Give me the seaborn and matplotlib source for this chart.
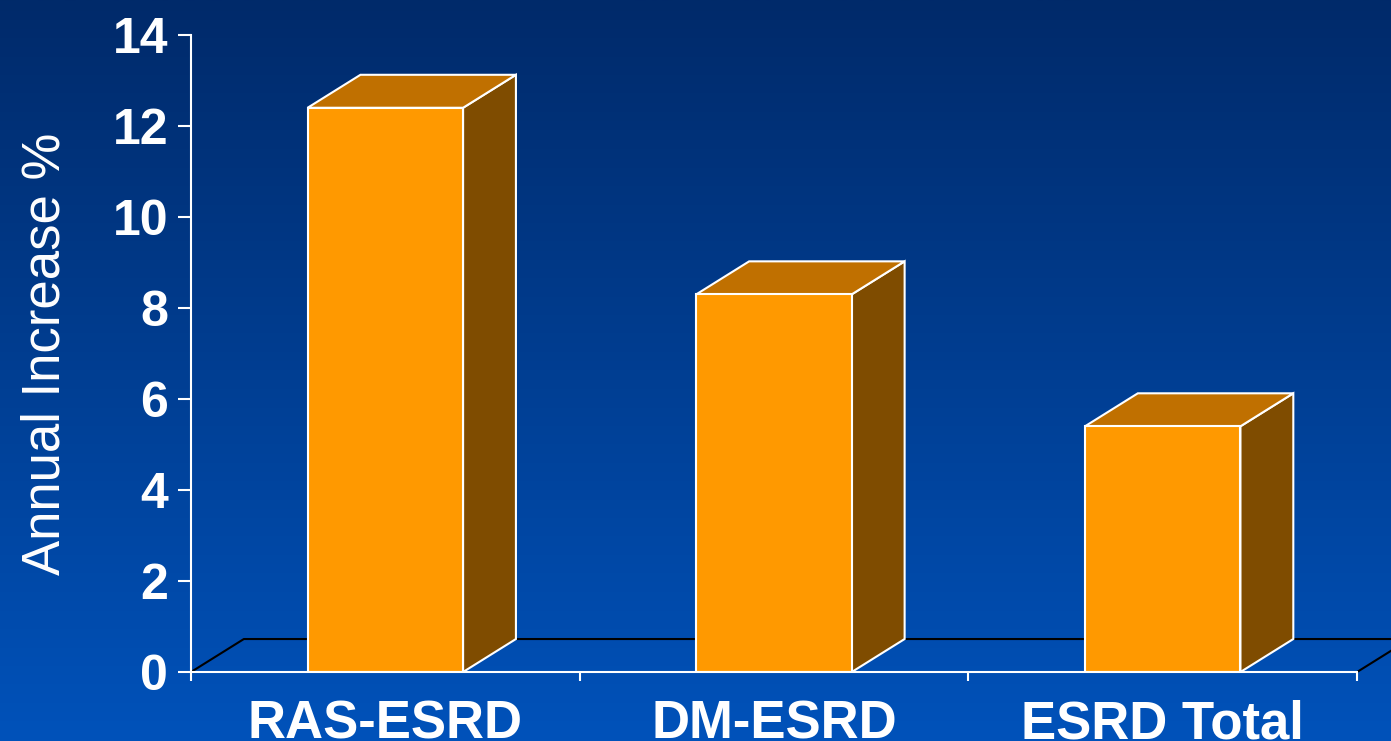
import matplotlib.pyplot as plt
import numpy as np
import seaborn as sns

# data
categories = ["RAS-ESRD", "DM-ESRD", "ESRD Total"]
increase = [12.4, 8.3, 5.4]
yticks = [0, 2, 4, 6, 8, 10, 12, 14]

sns.set_style("ticks")
plt.rcParams['font.family'] = ['Liberation Sans', 'DejaVu Sans']

fig = plt.figure(figsize=(13.91, 7.41), dpi=100)

# blue gradient background
bg = fig.add_axes([0, 0, 1, 1], zorder=-10)
top = np.array([0, 42, 106]) / 255
bot = np.array([0, 82, 186]) / 255
t = np.linspace(0, 1, 256)[:, None]
grad = top[None, :] * (1 - t) + bot[None, :] * t
bg.imshow(grad[:, None, :], aspect='auto', extent=[0, 1, 0, 1])
bg.set_axis_off()

ax = fig.add_axes([0.1373, 0.0931, 0.8383, 0.8597])
ax.set_facecolor('none')

sns.barplot(x=categories, y=increase, width=0.4, color='#FF9900', saturation=1,
            edgecolor='white', linewidth=1.5, ax=ax, zorder=3)

ax.set_xlim(-0.5, 2.5)
ax.set_ylim(0, 14)

# 3d depth
dx, dy = 0.136, 0.725

# floor lines
ax.plot([-0.5, -0.5 + dx, 3.0], [0, dy, dy], color='black', lw=1.5, clip_on=False, zorder=1)
ax.plot([2.5, 2.5 + dx], [0, dy], color='black', lw=1.5, clip_on=False, zorder=1)

for p in list(ax.patches):
    x0 = p.get_x()
    w = p.get_width()
    h = p.get_height()
    x1 = x0 + w
    side = plt.Polygon([(x1, 0), (x1 + dx, dy), (x1 + dx, h + dy), (x1, h)],
                       closed=True, facecolor='#7F4C00', edgecolor='white', lw=1.5, zorder=2)
    topf = plt.Polygon([(x0, h), (x0 + dx, h + dy), (x1 + dx, h + dy), (x1, h)],
                       closed=True, facecolor='#C07000', edgecolor='white', lw=1.5, zorder=2)
    ax.add_patch(side)
    ax.add_patch(topf)

# axes styling
sns.despine(ax=ax)
for s in ['left', 'bottom']:
    ax.spines[s].set_color('white')
    ax.spines[s].set_linewidth(1.5)
    ax.spines[s].set_zorder(4)

ax.set_yticks(yticks)
ax.tick_params(axis='y', colors='white', length=9.4, width=1.5, pad=7, labelsize=36)
ax.set_xticks([0, 1, 2])
ax.set_xticklabels(categories)
ax.set_xticks([-0.5, 0.5, 1.5, 2.5], minor=True)
ax.tick_params(axis='x', which='major', length=0, pad=20, labelsize=38, labelcolor='white')
ax.tick_params(axis='x', which='minor', length=6.5, width=1.5, color='white', direction='out')
plt.setp(ax.get_yticklabels(), fontweight='bold')
plt.setp(ax.get_xticklabels(), fontweight='bold')

ax.set_xlabel('')
ax.set_ylabel('Annual Increase %', color='white', fontsize=38, labelpad=30)

fig.savefig('out.png', dpi=100)
